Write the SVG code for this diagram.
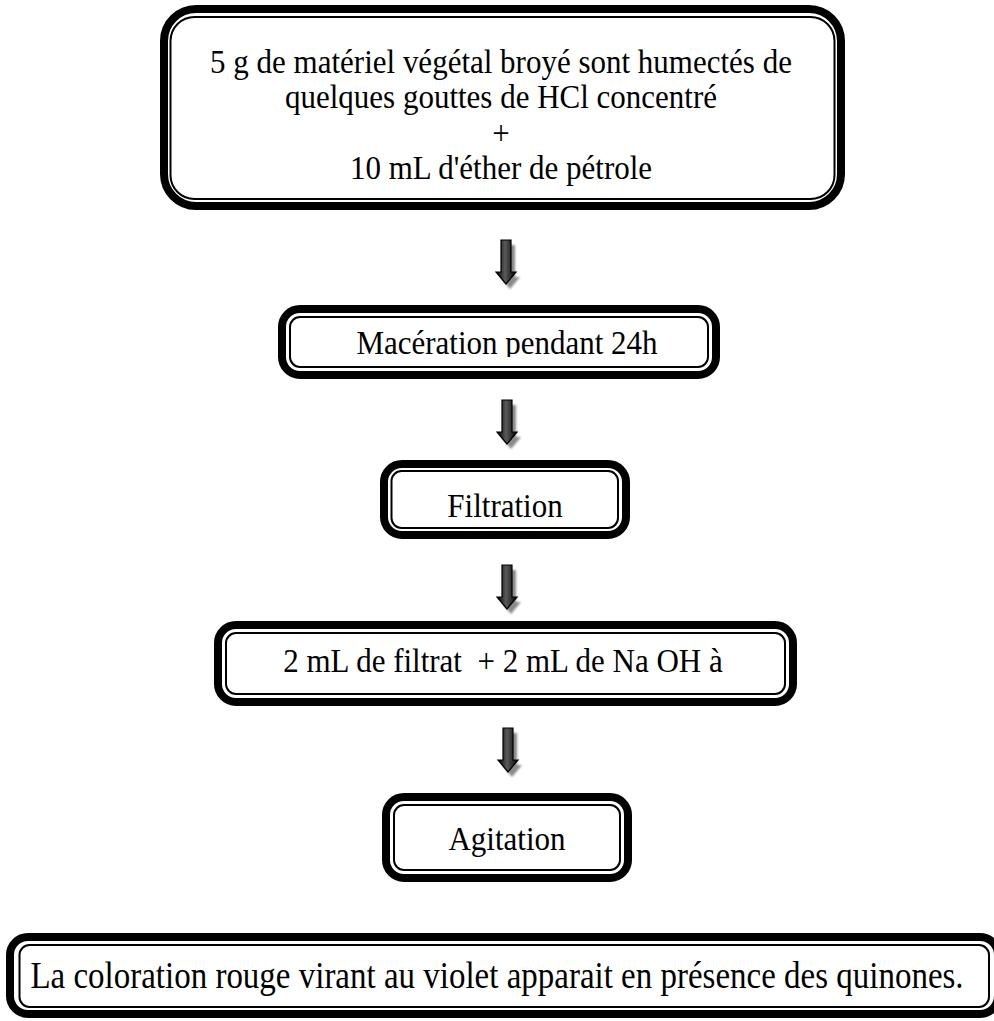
<svg xmlns="http://www.w3.org/2000/svg" width="994" height="1021" viewBox="0 0 994 1021">
<style>
.outer{fill:#fff;stroke:#000;stroke-width:8}
.inner{fill:none;stroke:#000;stroke-width:2}
text{font-family:"Liberation Serif","Times New Roman",serif;font-size:31px;fill:#000;text-anchor:middle;white-space:pre}
</style>
<defs>
<linearGradient id="ag" x1="0" y1="0" x2="1" y2="0">
<stop offset="0" stop-color="#000"/>
<stop offset="0.45" stop-color="#5a5a5a"/>
<stop offset="1" stop-color="#000"/>
</linearGradient>
<filter id="blur" x="-50%" y="-50%" width="200%" height="200%"><feGaussianBlur stdDeviation="1.2"/></filter>
<g id="arrow">
<path d="M-5,0 H5 V32 H10 L0,44 L-10,32 H-5 Z" transform="translate(4,5)" fill="#8a8a8a" filter="url(#blur)"/>
<path d="M-5,0 H5 V32 H10 L0,44 L-10,32 H-5 Z" fill="url(#ag)" stroke="#000" stroke-width="1.2" stroke-linejoin="miter"/>
</g>
<clipPath id="c2"><rect x="288" y="315" width="424" height="42"/></clipPath>
</defs>
<rect width="994" height="1021" fill="#fff"/>
<g id="connectors">
<use href="#arrow" x="506" y="240"/>
<use href="#arrow" x="507" y="400"/>
<use href="#arrow" x="507" y="565"/>
<use href="#arrow" x="508" y="728"/>
</g>
<g id="n1">
<rect class="outer" x="164" y="9" width="677" height="197" rx="32"/>
<rect class="inner" x="170.5" y="17" width="664" height="182" rx="24"/>
<text transform="translate(501,73) scale(1,1.12)">5 g de matériel végétal broyé sont humectés de</text>
<text transform="translate(501,108) scale(1,1.12)">quelques gouttes de HCl concentré</text>
<text transform="translate(501,144) scale(1,1.12)">+</text>
<text transform="translate(501,179) scale(1,1.12)">10 mL d'éther de pétrole</text>
</g>
<g id="n2">
<rect class="outer" x="282" y="309" width="434" height="66" rx="18"/>
<rect class="inner" x="290" y="317" width="418" height="50" rx="10"/>
<g clip-path="url(#c2)"><text transform="translate(507,354) scale(1,1.12)">Macération pendant 24h</text></g>
</g>
<g id="n3">
<rect class="outer" x="384" y="464" width="242" height="71" rx="18"/>
<rect class="inner" x="391.5" y="471" width="226.5" height="57" rx="10"/>
<text transform="translate(505,517) scale(1,1.12)">Filtration</text>
</g>
<g id="n4">
<rect class="outer" x="218" y="625" width="575" height="77" rx="18"/>
<rect class="inner" x="226" y="633" width="559" height="61" rx="10"/>
<text transform="translate(503,672) scale(1,1.12)" xml:space="preserve">2 mL de filtrat  + 2 mL de Na OH à</text>
</g>
<g id="n5">
<rect class="outer" x="386" y="797" width="242" height="81" rx="18"/>
<rect class="inner" x="394" y="805" width="226" height="65" rx="10"/>
<text transform="translate(507,850) scale(1,1.12)">Agitation</text>
</g>
<g id="n6">
<rect class="outer" x="10" y="937" width="988" height="77" rx="18"/>
<rect class="inner" x="19.5" y="945" width="969.5" height="62" rx="10"/>
<text transform="translate(497,988) scale(1,1.12)" style="font-size:33px">La coloration rouge virant au violet apparait en présence des quinones.</text>
</g>
</svg>
